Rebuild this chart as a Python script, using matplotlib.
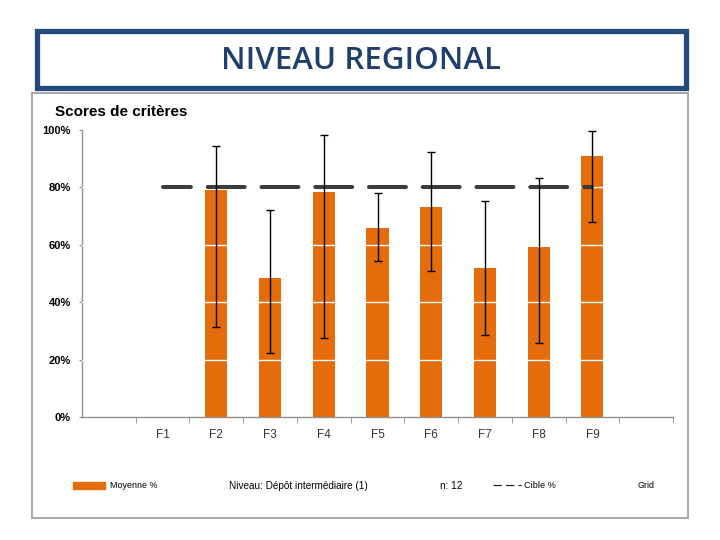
import matplotlib
matplotlib.use("Agg")
import matplotlib.pyplot as plt
from matplotlib.patches import Rectangle
from matplotlib.lines import Line2D
import numpy as np

plt.rcParams['font.family'] = ['Liberation Sans', 'DejaVu Sans']
plt.rcParams['lines.scale_dashes'] = False

# ---- data ----
categories = ["F1", "F2", "F3", "F4", "F5", "F6", "F7", "F8", "F9"]
moyenne = [np.nan, 79.0, 48.4, 78.5, 65.9, 73.2, 51.9, 59.2, 91.0]
err_min = [np.nan, 31.2, 22.2, 27.4, 54.2, 50.8, 28.5, 25.8, 67.8]
err_max = [np.nan, 94.5, 72.0, 98.3, 77.9, 92.3, 75.2, 83.4, 99.7]
cible = [80] * 9
y_ticks = [0, 20, 40, 60, 80, 100]
y_labels = ["0%", "20%", "40%", "60%", "80%", "100%"]
page_title = "NIVEAU REGIONAL"
chart_title = "Scores de critères"
legend_bar = "Moyenne %"
legend_level = "Niveau: Dépôt intermédiaire (1)"
legend_n = "n: 12"
legend_target = "Cible %"
legend_grid = "Grid"

W, H = 720, 540
fig = plt.figure(figsize=(7.2, 5.4), dpi=100)
fig.patch.set_facecolor("white")

def fx(px):
    return px / W

def fy(py):
    return 1 - py / H

# banner
blue = "#234a7a"
fig.patches.append(Rectangle((fx(37), fy(88)), fx(686) - fx(37), fy(31) - fy(88),
                             transform=fig.transFigure, fill=False,
                             edgecolor=blue, linewidth=3.8, zorder=5))
fig.text(fx(361), fy(61), page_title, ha="center", va="center",
         fontsize=22.5, color="#1f3f6e", family=["Open Sans", "DejaVu Sans"],
         fontweight="semibold")

# chart frame
fig.patches.append(Rectangle((fx(32), fy(518)), fx(688) - fx(32), fy(93) - fy(518),
                             transform=fig.transFigure, fill=False,
                             edgecolor="#a0a0a0", linewidth=1.3, zorder=1))

ax = fig.add_axes([fx(82), fy(417), fx(673) - fx(82), fy(130) - fy(417)])
ax.set_facecolor("none")

x = np.arange(1, len(categories) + 1)
mo = np.array(moyenne)
lo = mo - np.array(err_min)
hi = np.array(err_max) - mo

ax.bar(x, mo, width=0.41, color="#E46C0A", zorder=2)
for yv in y_ticks[1:-1]:
    ax.axhline(yv, color="white", linewidth=1.0, zorder=3)
ax.plot(x, cible, color="#3c3c3c", linewidth=2.9,
        linestyle=(6.5, (26.6, 12.1)), dash_capstyle="round", zorder=4)
ax.errorbar(x, mo, yerr=[lo, hi], fmt="none", ecolor="black",
            elinewidth=1.0, capsize=3, capthick=1.0, zorder=5)

ax.set_xlim(-0.5, 10.5)
ax.set_ylim(0, 100)
ax.set_yticks(y_ticks)
ax.set_yticklabels(y_labels, fontsize=8, fontweight="bold")
ax.set_xticks(x)
ax.set_xticklabels(categories, fontsize=8.5, color="#333333")
ax.set_xticks(np.arange(0.5, 11, 1.0), minor=True)
ax.tick_params(axis="x", which="major", length=0, pad=9)
ax.tick_params(axis="x", which="minor", length=4, direction="out", color="#909090")
ax.tick_params(axis="y", length=2, color="#909090", pad=6)
for s in ["top", "right"]:
    ax.spines[s].set_visible(False)
for s in ["left", "bottom"]:
    ax.spines[s].set_color("#909090")
    ax.spines[s].set_linewidth(1.0)

fig.text(fx(55), fy(112), chart_title, ha="left", va="center",
         fontsize=11, fontweight="bold", color="black")

# legend row
ly = fy(486)
fig.patches.append(Rectangle((fx(73), fy(489)), fx(105) - fx(73), fy(482) - fy(489),
                             transform=fig.transFigure, color="#E46C0A"))
fig.text(fx(110), ly, legend_bar, ha="left", va="center", fontsize=6.4)
fig.text(fx(229), ly, legend_level, ha="left", va="center", fontsize=7.2)
fig.text(fx(440), ly, legend_n, ha="left", va="center", fontsize=7.2)
fig.lines.append(Line2D([fx(493), fx(521)], [ly + 0.002, ly + 0.002], transform=fig.transFigure,
                        color="#202020", linewidth=0.9, linestyle=(0, (6, 3))))
fig.text(fx(524), ly, legend_target, ha="left", va="center", fontsize=6.6)
fig.text(fx(638), ly, legend_grid, ha="left", va="center", fontsize=6.4)

fig.savefig("out.png", dpi=100, facecolor="white")
